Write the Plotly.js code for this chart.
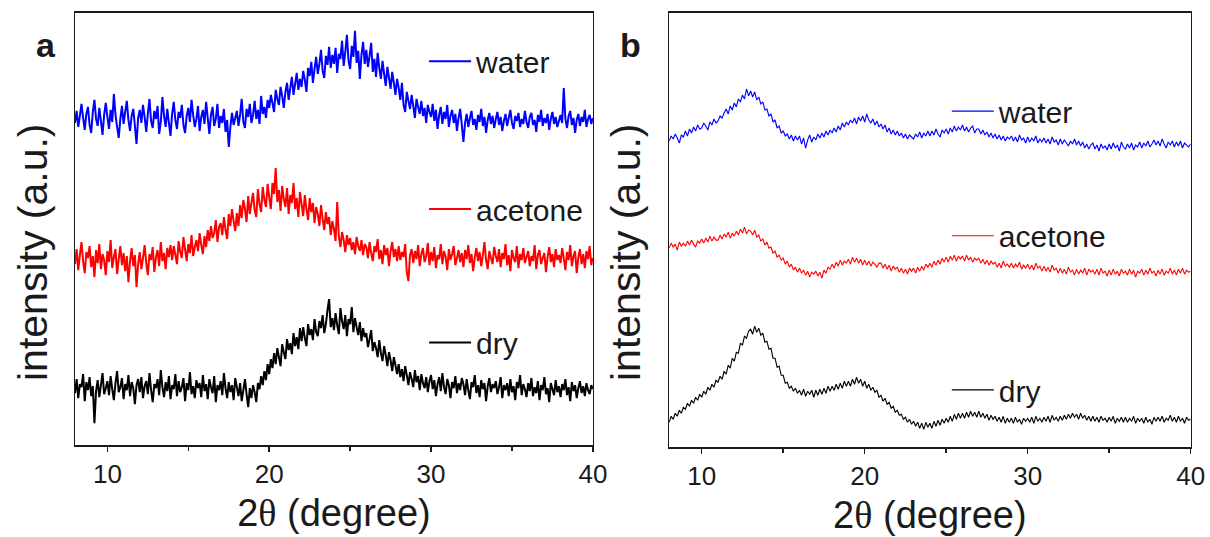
<!DOCTYPE html>
<html>
<head>
<meta charset="utf-8">
<script src="https://cdn.plot.ly/plotly-3.0.1.min.js"></script>
<style>html,body{margin:0;padding:0;background:#fff;}#chart{width:1210px;height:537px;}</style>
</head>
<body>
<div id="chart"></div>
<script>
// ---- Data ----
// Panel a: 2θ from 8° to 40° in 0.1° steps
const X0_A = 8, DX_A = 0.1;
const waterA = [
322,334,318,329,341,327,315,331,338,320,312,333,345,326,319,337,324,310,330,342,
328,316,335,323,351,330,318,307,326,339,321,333,344,325,314,329,336,319,301,327,
335,322,340,328,313,331,346,324,317,334,326,339,311,323,348,329,318,336,322,309,
331,343,325,316,333,327,340,320,312,329,337,323,345,330,318,326,339,314,328,335,
321,343,327,311,330,338,319,326,341,317,329,322,336,313,325,298,318,332,320,327,
334,319,330,346,323,317,336,328,341,322,330,344,326,335,321,349,331,338,327,345,
337,350,342,333,355,346,340,358,349,337,353,362,345,357,368,350,361,372,355,366,
358,374,365,353,377,369,383,362,376,388,371,381,395,374,367,389,380,398,377,390,
381,397,372,391,386,404,379,393,410,384,376,399,388,414,382,394,366,390,403,381,
395,378,389,402,373,386,368,392,377,366,384,371,359,378,367,356,373,362,350,366,
357,345,362,340,333,353,344,336,350,339,327,346,338,331,344,329,337,322,340,333,
328,341,324,335,316,330,338,321,333,326,340,318,329,335,322,331,314,327,336,320,
303,322,331,318,327,334,320,326,315,330,323,336,319,328,312,325,332,321,329,317,
326,333,320,328,314,324,331,319,327,335,322,316,329,324,332,318,326,321,334,323,
317,328,332,320,325,313,330,323,335,319,327,322,331,315,326,333,321,328,318,324,
330,322,357,326,317,329,334,320,327,312,325,331,319,328,323,335,318,326,330,321,327];
const acetoneA = [
181,196,175,190,203,184,172,193,187,199,178,189,168,195,182,201,176,191,185,170,
194,183,205,177,188,196,171,186,199,180,192,174,189,163,184,197,179,190,158,181,
193,176,187,200,182,170,191,185,198,173,188,195,179,203,184,192,176,197,188,200,
185,199,190,181,204,193,187,208,196,184,201,192,210,189,198,205,194,212,200,191,
209,198,215,204,219,207,212,225,203,218,222,210,228,215,206,231,219,236,224,214,
232,219,240,227,245,236,223,249,231,242,252,235,228,256,241,233,258,245,238,261,
248,236,262,251,277,243,255,234,259,246,238,257,231,250,242,262,236,247,228,253,
241,229,250,236,225,247,233,242,222,238,231,219,240,226,215,233,221,228,210,224,
216,204,243,209,198,213,205,193,210,200,207,195,203,191,208,199,194,205,190,201,
198,187,203,192,184,199,193,206,186,195,181,200,190,197,179,194,203,188,196,184,
199,185,193,188,201,173,164,190,196,182,194,186,200,179,191,197,183,189,202,180,
193,184,198,177,190,186,201,181,194,188,175,196,185,191,199,180,187,195,183,192,
178,195,186,200,182,191,174,188,197,184,193,179,190,203,185,176,194,187,181,198,
189,183,196,178,192,186,201,180,190,174,195,187,183,199,177,191,185,197,182,188,
194,179,189,184,200,176,190,195,181,187,192,173,188,198,183,191,178,196,185,190,
182,197,187,175,193,185,200,179,189,194,172,188,196,181,191,177,194,186,199,180,187];
const dryA = [
52,66,47,61,58,71,44,63,55,68,49,59,22,54,65,48,60,72,51,57,
64,50,69,56,45,62,74,53,58,67,46,61,55,70,49,63,57,41,60,66,
53,68,47,59,64,51,72,55,43,61,57,66,50,75,58,48,63,54,69,46,
60,56,71,49,64,53,58,67,44,62,55,73,51,59,47,65,57,62,48,70,
54,61,46,66,58,52,69,43,60,55,64,50,72,57,47,63,53,60,45,67,
58,49,62,44,55,66,51,38,57,47,60,53,43,62,56,69,60,74,65,81,
71,86,77,92,81,97,88,79,101,93,86,106,95,102,91,112,99,108,96,117,
104,118,107,99,121,110,116,105,126,113,109,124,117,130,112,121,135,146,118,127,
115,132,120,111,137,124,116,130,109,126,121,138,113,127,118,110,123,104,117,108,
112,98,106,115,94,103,97,88,105,92,84,99,90,79,93,85,74,88,80,71,
81,68,76,64,79,70,60,73,66,58,75,63,69,55,71,62,57,68,53,64,
70,56,65,49,61,68,54,72,58,51,66,60,47,63,57,69,52,62,55,67,
61,50,66,55,46,63,58,70,52,60,48,65,56,62,44,59,67,53,61,57,
64,51,58,68,47,60,55,62,49,66,53,59,45,63,57,70,50,61,56,48,
62,54,67,49,58,52,64,45,60,55,68,51,57,43,62,56,50,65,53,59,
48,61,55,66,50,58,44,63,54,60,47,57,64,52,59,49,62,55,51,60,56];

// Panel b: 2θ from 8° to 40° in 0.125° steps
const X0_B = 8, DX_B = 0.125;
const waterB = [
306,311,308,313,309,304,312,310, 316,311,318,314,320,316,322,318,
319,324,321,317,325,322,328,324, 326,331,329,334,338,333,341,337,
344,340,348,345,352,348,358,351, 356,350,355,347,350,343,345,337,
338,331,333,325,327,319,321,314, 316,311,313,308,312,306,311,307,
311,303,309,299,307,312,305,310, 307,313,309,314,310,316,312,317,
314,319,315,321,317,324,320,325, 322,327,324,329,323,330,326,331,
325,333,327,324,328,322,326,320, 323,318,322,315,319,313,317,312,
316,311,314,309,313,308,312,310, 308,313,310,315,309,314,311,316,
311,316,312,318,313,310,317,314, 318,313,319,315,321,316,320,317,
322,316,320,315,319,321,314,318, 318,313,317,312,315,310,314,309,
313,308,312,307,311,306,310,308, 311,306,310,305,312,307,309,304,
310,305,309,306,311,304,308,305, 309,304,308,303,310,305,307,302,
308,303,307,304,301,306,303,308, 302,306,301,305,299,303,298,302,
304,298,302,296,303,299,301,297, 303,298,304,299,302,296,305,300,
298,303,299,304,297,302,300,305, 299,304,301,306,300,303,307,302,
306,301,308,303,299,305,302,306, 300,305,301,306,299,304,302,300,303];
const acetoneB = [
199,204,200,203,197,205,201,204, 201,206,202,207,203,200,206,204,
208,204,209,205,211,206,210,207, 207,212,208,213,210,215,209,214,
211,216,212,218,214,220,213,217, 216,212,217,210,212,206,208,202,
205,199,200,194,196,190,192,187, 189,183,186,180,183,177,180,175,
179,174,177,172,176,170,175,173, 176,171,175,169,177,174,180,178,
183,179,185,181,187,182,186,184, 188,183,190,185,189,184,188,182,
187,182,186,181,185,183,180,184, 184,179,183,178,182,176,181,178,
180,175,179,174,178,173,179,176, 179,174,180,176,181,177,183,180,
184,180,186,182,187,183,189,185, 190,185,191,187,192,186,191,188,
191,186,192,187,190,185,189,187, 189,184,188,183,187,182,186,183,
185,180,184,179,186,181,183,180, 184,179,183,180,185,178,182,179,
183,178,182,177,184,179,181,176, 181,176,180,175,182,177,179,174,
179,174,178,173,180,175,177,172, 178,173,177,174,179,172,178,175,
177,173,178,172,179,174,176,171, 177,172,178,173,176,171,178,174,
176,172,178,173,177,170,176,174, 178,172,177,173,179,174,176,171,
177,173,178,172,176,174,179,173, 177,172,178,174,179,173,177,175,176];
const dryB = [
25,31,28,34,31,37,34,40, 38,44,41,47,44,50,47,53,
50,56,53,60,57,63,60,67, 65,71,68,76,73,82,79,89,
86,95,94,104,102,111,109,116, 118,113,121,115,119,112,114,105,
106,98,99,89,89,80,81,72, 72,64,65,59,61,56,59,54,
57,52,58,51,56,53,57,50, 57,52,58,53,59,54,61,56,
61,57,63,58,64,59,66,61, 66,61,68,63,70,64,68,61,
66,59,63,57,60,55,57,50, 52,46,49,43,45,39,41,35,
37,32,33,28,30,25,28,23, 26,21,25,19,24,18,25,20,
24,19,26,21,27,22,28,24, 29,25,31,26,33,28,34,29,
34,29,35,30,36,31,35,30, 36,30,34,29,33,27,32,28,
31,26,30,25,31,24,29,25, 29,24,30,25,28,23,29,26,
29,25,30,24,31,26,29,25, 30,26,31,25,32,27,30,26,
31,27,32,28,33,29,34,30, 33,28,34,29,32,27,31,26,
31,26,30,25,31,27,29,25, 30,26,31,24,29,26,30,25,
30,25,29,26,31,24,29,26, 29,24,30,25,28,23,30,26,
30,26,31,25,29,27,32,26, 30,25,31,26,29,24,30,27,28];

const seriesNames = ['water', 'acetone', 'dry'];
const seriesColors = ['#0000ff', '#ff0000', '#000000'];
const panelLabels = ['a', 'b'];
const xTitle = '2<span style="font-family:Liberation Serif">θ</span> (degree)';
const yTitle = 'intensity (a.u.)';

// ---- Figure ----
const FONT = 'Liberation Sans, Arial, sans-serif';
const INK = '#1a1a1a';
const W = 1210, H = 537;
const dataA = [waterA, acetoneA, dryA];
const dataB = [waterB, acetoneB, dryB];
const traces = [];
dataA.forEach((ys, i) => traces.push({
  type: 'scatter', mode: 'lines', x0: X0_A, dx: DX_A, y: ys, name: seriesNames[i],
  line: {color: seriesColors[i], width: 2, simplify: false}, xaxis: 'x', yaxis: 'y',
  legend: i === 0 ? 'legend' : 'legend' + (i + 1), hoverinfo: 'skip'
}));
dataB.forEach((ys, i) => traces.push({
  type: 'scatter', mode: 'lines', x0: X0_B, dx: DX_B, y: ys, name: seriesNames[i],
  line: {color: seriesColors[i], width: 1.1, simplify: false}, xaxis: 'x2', yaxis: 'y2',
  legend: 'legend' + (i + 4), hoverinfo: 'skip'
}));

function xAxis(domain, anchor) {
  return {
    domain: domain, anchor: anchor, range: [8, 40], tick0: 0, dtick: 10,
    ticks: 'outside', ticklen: 5, tickwidth: 1.5, tickcolor: INK,
    minor: {dtick: 5, ticks: 'outside', ticklen: 4, tickwidth: 1.5, tickcolor: INK, showgrid: false},
    showline: true, mirror: true, linecolor: INK, linewidth: 1.5,
    showgrid: false, zeroline: false,
    tickfont: {family: FONT, size: 26, color: INK},
    title: {text: xTitle, font: {family: FONT, size: 38, color: INK}, standoff: 11}
  };
}
function yAxis(domain, anchor, top) {
  return {
    domain: domain, anchor: anchor, range: [0, top],
    showticklabels: false, ticks: '',
    showline: true, mirror: true, linecolor: INK, linewidth: 1.5,
    showgrid: false, zeroline: false
  };
}
function legendAt(x, y) {
  return {x: x, y: y, xanchor: 'left', yanchor: 'middle', bgcolor: 'rgba(0,0,0,0)',
    borderwidth: 0, itemwidth: 42, font: {family: FONT, size: 30, color: INK}};
}
function textAt(text, px, py, size, angle) {
  return {text: text, xref: 'paper', yref: 'paper', x: px / W, y: 1 - py / H,
    xanchor: 'center', yanchor: 'middle', showarrow: false, textangle: angle || 0,
    font: {family: FONT, size: size, color: INK}};
}

const layout = {
  width: W, height: H,
  margin: {l: 0, r: 0, t: 0, b: 0},
  paper_bgcolor: '#ffffff', plot_bgcolor: '#ffffff',
  showlegend: true,
  xaxis: xAxis([0.062, 0.490], 'y'),
  yaxis: yAxis([0.171, 0.976], 'x', 432),
  xaxis2: xAxis([0.553, 0.984], 'y2'),
  yaxis2: yAxis([0.167, 0.976], 'x2', 434),
  legend: legendAt(0.3505, 0.886),
  legend2: legendAt(0.3505, 0.611),
  legend3: legendAt(0.3505, 0.362),
  legend4: legendAt(0.7825, 0.793),
  legend5: legendAt(0.7825, 0.561),
  legend6: legendAt(0.7825, 0.274),
  annotations: [
    textAt('<b>' + panelLabels[0] + '</b>', 46, 45, 34),
    textAt('<b>' + panelLabels[1] + '</b>', 630, 45, 34),
    textAt(yTitle, 33, 252, 41, -90),
    textAt(yTitle, 626, 252, 41, -90)
  ]
};

Plotly.newPlot('chart', traces, layout, {staticPlot: true, displayModeBar: false});
</script>
</body>
</html>
